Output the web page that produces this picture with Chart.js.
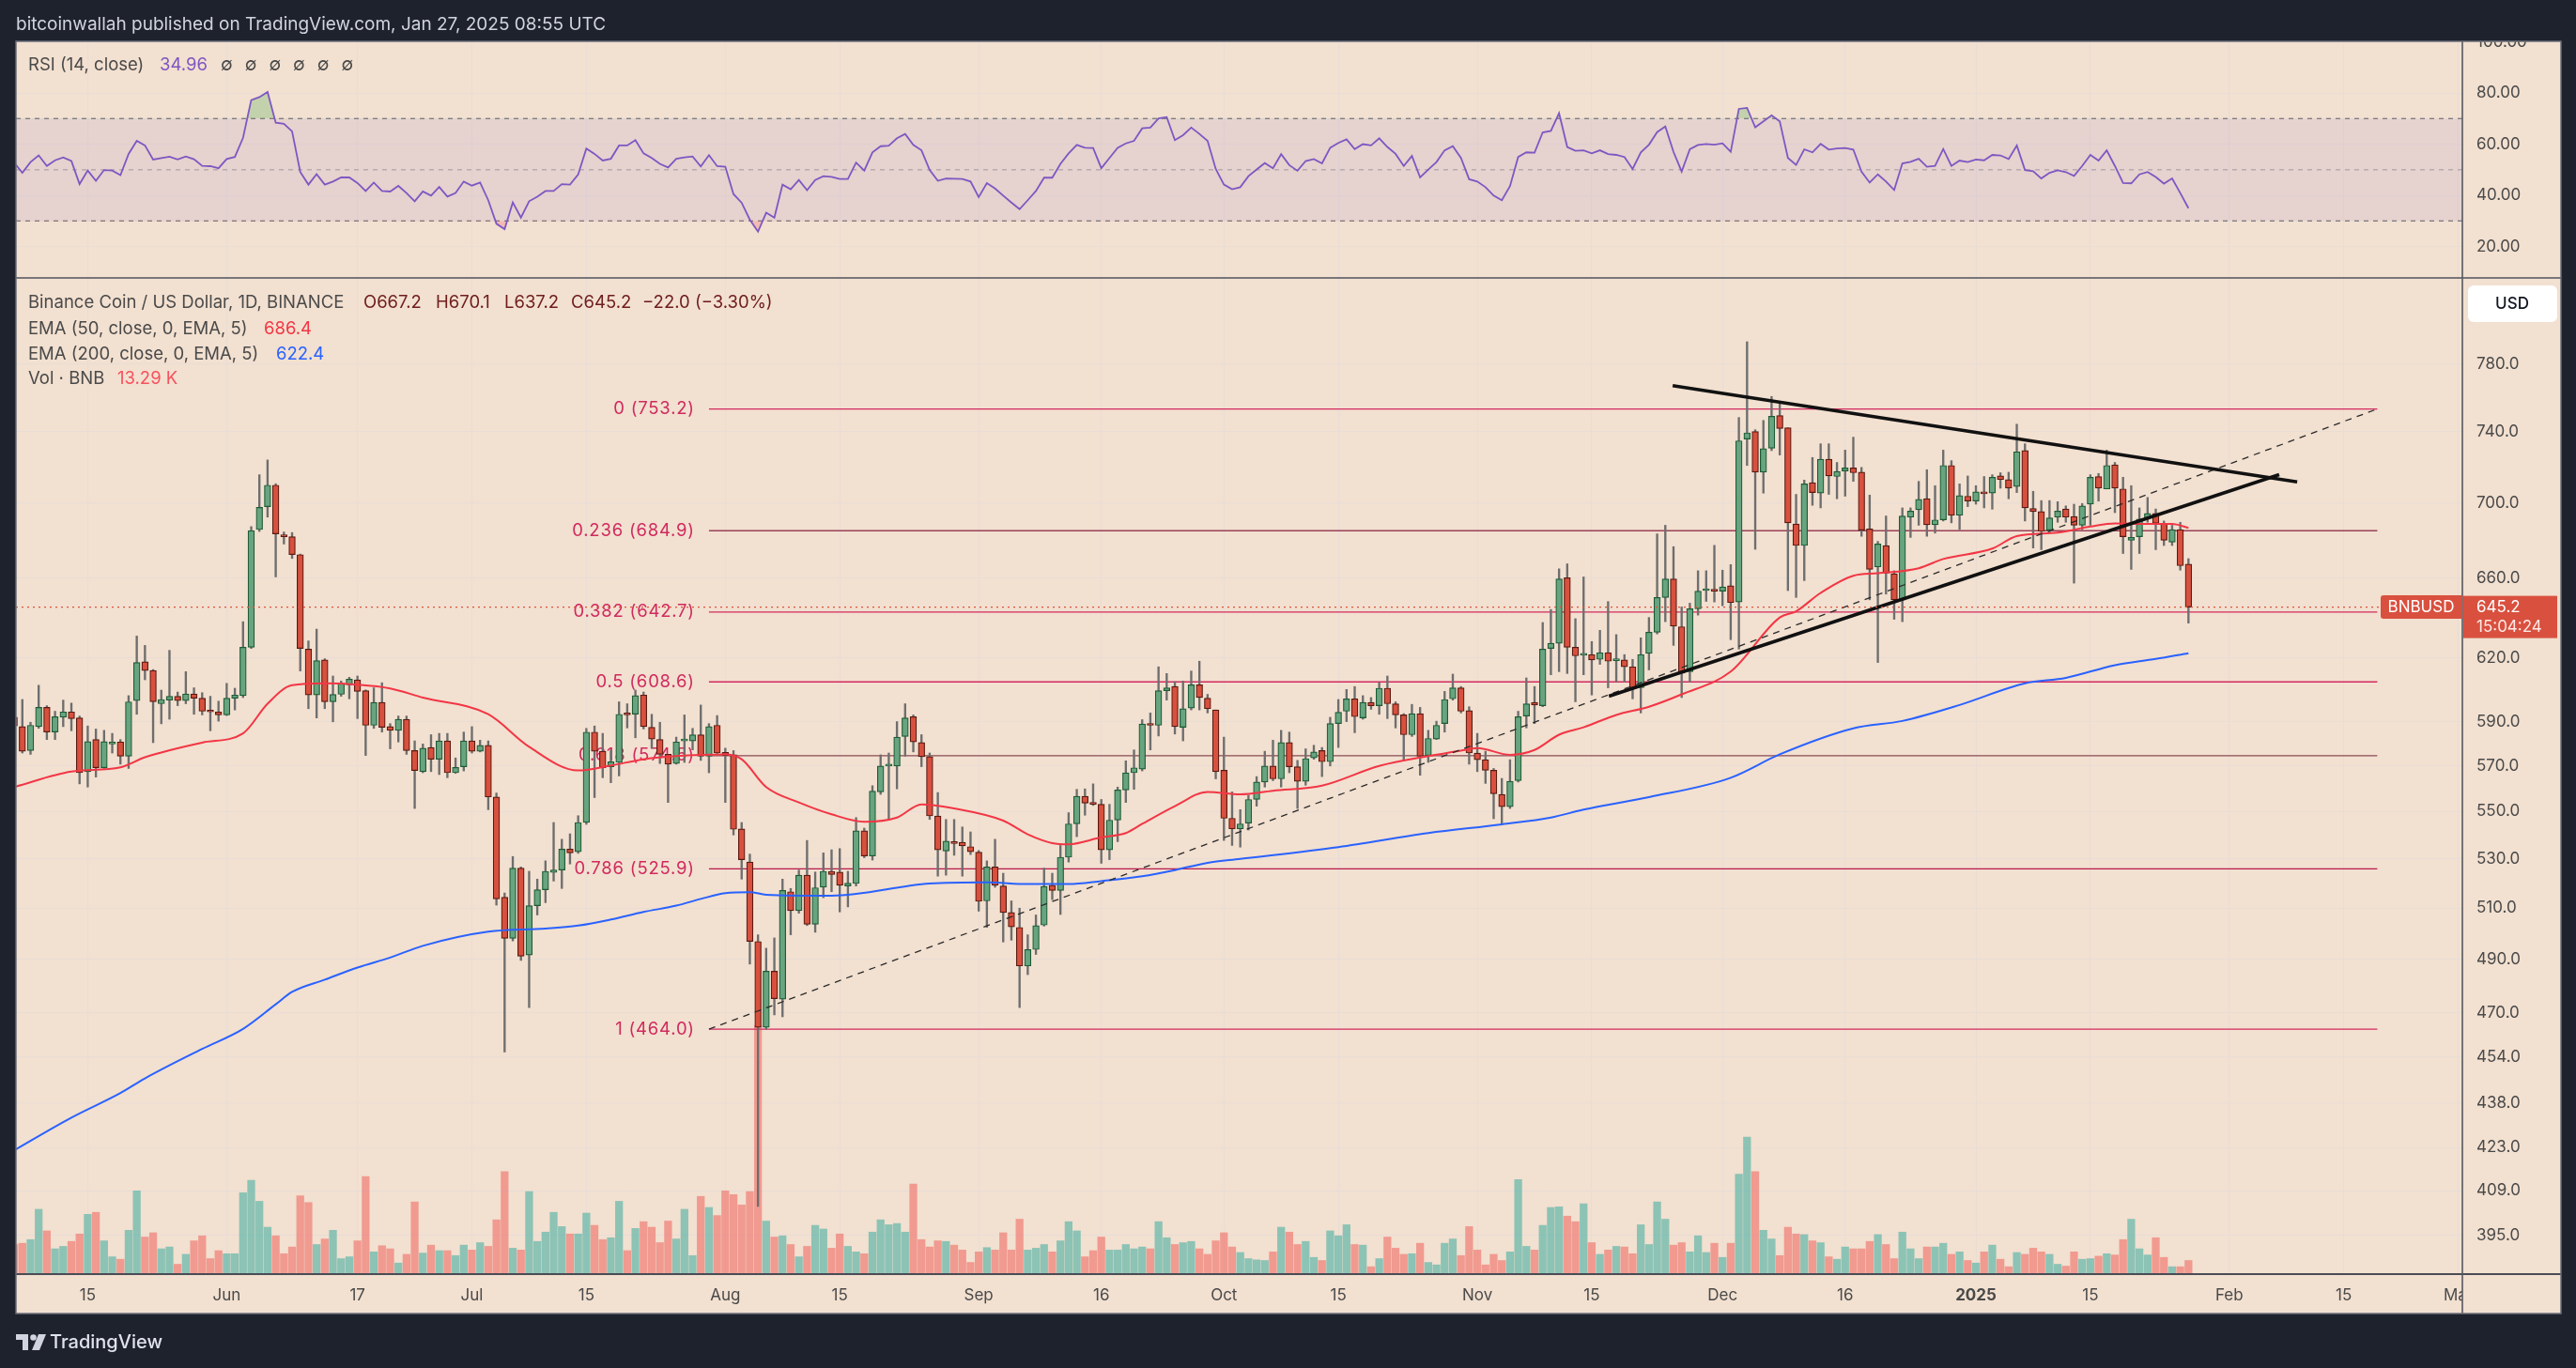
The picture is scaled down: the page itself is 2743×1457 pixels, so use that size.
<!DOCTYPE html>
<html><head><meta charset="utf-8">
<script src="https://cdn.jsdelivr.net/npm/chart.js@4.4.1/dist/chart.umd.min.js"></script>
<style>html,body{margin:0;padding:0;background:#1e222d;overflow:hidden}canvas{display:block}</style>
</head><body>
<canvas id="c" width="2743" height="1457" style="width:2743px;height:1457px"></canvas>
<script>
// ---------- DATA (day index: 0 = 2024-06-01, first candle = 2024-05-06) ----------
const firstDay = -26;
const open = [592.0,587.7,576.8,587.7,596.6,585.2,592.0,594.5,591.7,567.4,581.8,569.1,579.8,580.7,574.3,599.8,618.2,614.0,598.3,600.0,601.8,599.8,602.9,600.9,595.1,594.5,
593.1,600.9,602.1,625.3,685.5,697.9,709.7,682.6,681.7,672.2,
624.4,602.4,619.1,599.2,602.7,607.2,609.6,604.4,588.3,598.9,
587.7,586.0,591.1,576.8,567.4,578.2,572.9,581.2,566.9,569.6,
581.2,576.5,579.2,556.3,514.4,498.1,526.2,491.7,511.0,517.4,
524.4,525.4,534.1,533.0,545.3,585.2,576.5,569.6,571.5,594.0,
593.4,602.4,587.4,581.8,575.1,571.0,581.2,581.2,584.0,574.3,
588.3,576.0,574.9,542.6,528.7,496.9,464.7,485.5,475.0,516.6,
509.0,523.3,503.6,518.4,524.9,524.6,518.9,519.9,541.8,531.2,
558.5,569.9,569.9,583.2,592.3,580.4,574.1,548.1,533.3,536.9,
536.9,535.1,532.8,512.9,526.7,518.9,508.3,502.4,487.5,493.8,
503.3,519.2,517.1,530.7,544.7,556.6,553.6,553.1,533.8,546.3,
559.3,566.9,568.5,589.1,588.3,604.4,606.4,587.4,596.3,607.2,
600.9,595.4,568.0,547.1,542.6,545.0,555.2,562.8,569.9,564.2,
580.4,569.6,563.1,573.5,576.8,571.8,589.1,594.8,600.6,591.7,
598.9,597.4,605.6,598.3,593.1,584.0,593.7,574.6,582.0,589.1,
600.6,605.8,595.1,575.7,572.7,568.0,557.4,552.1,563.4,592.6,
598.9,597.4,624.7,627.2,660.2,625.3,621.4,621.7,619.4,622.6,
618.8,619.1,615.8,605.8,622.3,632.7,650.1,659.6,635.4,613.5,
644.4,653.6,654.0,653.3,656.1,647.8,735.7,740.0,716.9,730.5,
749.3,742.2,688.5,677.0,711.1,705.3,724.2,714.5,717.6,719.3,
716.9,685.8,665.8,677.0,662.2,648.9,692.2,696.2,702.2,688.1,
690.7,720.7,693.2,703.6,700.9,706.0,705.3,714.8,712.8,709.0,
729.1,696.9,695.2,685.2,692.2,696.6,692.5,687.8,699.3,714.5,
707.6,721.0,707.6,679.8,681.7,691.8,694.2,688.8,678.8,685.5,
667.2];
const high = [593.5,600.3,589.7,607.0,597.4,594.8,600.0,598.6,592.6,588.0,586.6,586.0,584.6,581.8,602.1,630.8,626.2,614.5,604.7,623.8,603.8,613.5,605.8,603.5,601.8,599.5,
607.9,605.6,637.9,687.1,715.5,723.8,710.5,684.2,683.9,672.5,
628.4,634.2,619.7,611.4,609.0,610.8,611.4,604.8,605.8,608.2,
589.1,592.6,592.6,581.2,579.8,584.0,584.6,584.6,573.5,585.2,
587.7,581.5,581.2,558.0,516.1,531.0,526.7,524.9,521.7,529.2,
545.3,538.2,540.5,548.2,586.9,588.0,584.6,577.1,599.2,598.3,
604.7,603.8,593.4,589.7,575.1,582.9,593.1,586.9,597.7,589.1,
592.8,577.9,576.8,545.3,532.0,499.5,494.3,498.3,521.7,517.9,
525.4,537.7,524.6,532.5,533.8,534.3,524.9,547.4,542.9,561.2,
574.9,575.7,590.0,598.3,593.1,584.0,575.7,558.2,546.6,546.6,
543.4,541.3,533.5,529.2,538.2,524.1,512.9,510.0,499.5,507.3,
526.2,524.1,535.6,549.5,559.6,559.8,562.0,555.2,553.1,560.6,
572.2,577.1,590.9,594.0,615.8,612.6,608.7,609.0,613.8,618.5,
602.7,595.4,582.9,558.5,550.8,557.1,565.2,576.5,581.5,586.0,
585.2,572.4,577.6,579.2,578.2,592.0,600.3,605.0,606.4,602.1,
601.2,608.2,611.4,599.2,593.7,598.0,596.6,586.0,590.2,604.1,
612.3,606.4,596.9,584.6,576.5,568.8,564.4,572.7,594.8,610.5,
606.4,637.5,644.0,664.8,667.4,639.4,660.6,628.1,633.6,648.0,
631.5,621.7,619.4,629.9,640.0,683.2,687.8,676.4,645.3,647.2,
663.8,663.8,677.1,664.1,667.0,748.2,793.8,741.1,746.5,760.6,
757.3,742.2,704.6,712.5,725.2,733.0,733.0,722.4,729.4,736.8,
719.6,704.2,679.2,692.8,663.8,697.2,697.2,711.8,718.3,709.4,
729.4,723.4,710.4,714.8,709.4,714.5,715.5,716.6,716.9,744.3,
733.0,706.3,701.2,701.2,700.6,698.3,699.2,699.6,715.5,716.2,
729.4,722.4,714.1,709.4,697.2,702.9,696.6,690.1,687.8,689.4,
670.1];
const low = [587.0,575.7,575.1,586.9,581.8,581.8,587.7,585.8,562.0,560.6,565.0,568.8,575.7,570.7,568.8,593.4,609.6,580.4,589.0,591.1,597.4,598.3,593.4,593.1,585.8,590.2,
592.8,595.4,601.2,624.7,684.5,692.2,660.6,677.8,670.2,613.8,
596.0,591.7,596.0,589.9,601.8,600.6,591.4,574.6,586.9,585.2,
577.6,580.7,575.1,551.3,566.9,567.4,566.1,564.7,566.6,567.7,
575.7,576.2,550.8,511.2,455.8,497.1,489.6,471.9,507.3,512.2,
520.9,517.9,527.9,532.3,544.5,556.0,564.7,562.5,565.5,587.1,
582.6,586.6,577.9,571.0,553.9,570.7,571.5,577.1,572.4,566.9,
575.1,553.9,540.0,521.7,488.2,404.0,464.0,469.2,468.5,499.5,
508.0,503.1,500.5,514.2,516.6,508.5,510.5,518.9,530.5,529.5,
557.4,546.6,559.8,574.3,576.2,569.6,546.6,522.9,523.3,531.5,
522.9,531.8,508.8,502.4,518.4,496.7,497.4,471.9,484.2,491.9,
502.9,513.4,507.5,528.7,539.3,548.4,552.6,528.2,529.7,537.2,
553.9,559.6,567.7,577.1,583.4,600.0,584.3,581.2,595.4,595.4,
594.0,564.2,537.7,535.6,534.9,542.1,552.3,560.6,563.4,560.6,
566.9,551.3,561.4,572.9,565.2,569.9,578.2,590.0,584.9,591.1,
595.7,593.4,591.4,587.1,572.2,583.2,565.8,571.5,581.8,585.2,
600.0,594.0,570.7,567.4,562.2,546.9,544.5,551.3,562.8,587.1,
589.1,596.9,612.0,613.5,612.6,599.2,612.0,602.4,617.0,605.8,
608.7,608.5,600.6,594.0,614.3,631.8,637.9,626.2,601.2,608.5,
641.2,648.1,647.8,645.9,629.0,624.4,720.7,675.0,705.3,729.1,
726.6,653.6,650.1,658.7,698.6,697.2,704.6,702.2,703.6,711.8,
681.9,648.9,617.9,651.8,639.1,637.9,681.3,687.8,681.9,683.6,
690.1,689.1,685.5,697.9,699.2,697.2,696.5,708.0,702.2,705.6,
690.1,675.7,674.8,683.6,689.4,689.4,657.4,685.5,687.8,700.9,
707.6,694.6,672.8,664.5,672.8,689.4,674.8,677.0,677.0,664.1,
637.2];
const close = [588.0,576.5,588.3,596.6,585.2,592.3,594.5,591.4,566.9,580.9,569.1,580.9,580.4,574.3,599.2,617.9,614.0,599.2,600.3,601.8,599.8,602.9,600.9,594.8,594.5,593.1,
600.9,602.4,625.3,684.9,697.5,709.7,683.2,681.7,672.2,624.7,
602.4,618.8,599.2,602.7,607.9,609.9,604.1,588.3,598.9,587.4,
586.0,591.1,576.8,567.9,577.9,572.9,581.2,566.9,569.3,581.2,
576.5,579.2,556.3,513.7,498.1,526.2,491.2,511.0,517.4,524.9,
525.4,534.1,532.5,545.3,585.2,576.5,569.1,571.8,593.4,593.1,
602.1,587.7,582.0,575.1,570.7,580.7,581.8,584.0,574.3,587.7,
575.7,574.6,542.4,529.7,496.9,464.7,485.5,475.2,517.1,509.0,
523.3,503.6,518.2,524.9,523.6,519.2,520.1,541.8,531.2,558.8,
569.9,570.4,582.9,591.7,580.7,574.1,548.1,533.8,537.4,536.4,
535.4,533.0,512.7,526.7,519.2,508.3,502.6,487.5,493.8,503.1,
518.7,517.1,530.7,544.7,556.6,553.6,553.1,533.8,546.3,559.3,
566.9,569.1,588.9,588.3,604.4,605.8,587.7,596.0,607.2,601.2,
596.0,567.4,547.1,542.6,544.7,555.2,562.8,569.9,564.2,580.4,
569.6,563.1,573.2,576.2,571.8,589.1,594.3,600.6,592.3,598.9,
597.4,605.6,598.3,593.1,584.0,593.7,574.3,582.3,588.3,600.3,
605.8,594.8,575.7,572.7,568.0,557.7,552.1,563.1,592.3,598.3,
597.7,624.4,627.2,659.6,625.3,621.1,622.0,619.1,622.6,618.5,
619.1,615.8,605.8,621.7,632.7,650.1,659.6,635.7,612.8,644.4,
653.3,654.3,653.3,655.5,647.5,734.7,739.3,716.9,730.2,748.9,
741.8,689.1,677.0,710.4,705.6,724.2,714.8,717.3,719.3,716.6,
685.2,664.5,677.8,662.5,648.9,692.8,695.5,701.9,688.1,690.7,
720.7,693.2,703.9,700.9,706.0,704.9,714.1,712.8,708.0,728.4,
697.2,695.2,684.5,691.8,695.5,692.2,687.8,698.3,714.1,708.0,
720.7,708.0,681.7,681.3,691.1,694.2,688.8,679.8,685.5,666.4,
645.2];
// volume in thousands of BNB
const volume = [28.9,30.1,33.7,63.3,42.2,24.7,27.1,31.9,39.2,58.4,60.3,32.5,16.9,14.5,42.8,81.3,36.2,40.4,24.7,26.5,9.6,19.3,32.5,37.4,15.1,22.9,
19.9,19.9,79.5,91.6,71.1,45.8,37.4,19.9,26.5,76.5,
69.9,28.9,34.3,42.8,15.1,16.9,32.5,95.2,21.7,27.7,
24.7,10.8,19.3,70.5,20.5,28.3,22.9,22.9,18.1,28.3,
23.5,30.7,27.1,53.0,100.0,25.3,23.5,80.7,31.9,41.0,
60.3,46.4,39.2,39.2,59.6,47.6,33.7,35.5,71.1,22.9,
44.6,51.2,45.8,30.7,51.8,34.3,63.3,18.1,75.9,65.1,
57.2,81.3,77.7,67.5,80.7,242.8,51.8,36.2,37.4,28.9,
16.9,27.1,47.6,44.0,25.3,39.2,27.1,21.7,19.9,41.0,
53.0,48.2,49.4,41.0,88.0,33.7,26.5,32.5,31.9,28.3,
23.5,11.4,21.7,25.9,23.5,40.4,23.5,53.6,23.5,25.3,
28.9,21.7,32.5,51.2,42.2,16.9,22.9,36.2,23.5,23.5,
28.9,24.7,26.5,24.7,51.2,35.5,28.9,30.7,31.9,24.7,
19.3,32.5,40.4,26.5,21.1,15.1,13.9,13.3,21.7,45.8,
41.0,28.9,31.9,16.3,13.3,42.2,37.4,48.2,28.9,28.3,
7.2,15.1,36.2,25.3,19.3,19.9,30.1,11.4,9.0,30.1,
34.3,18.1,46.4,23.5,9.0,19.3,13.3,21.7,92.2,27.1,
23.5,47.6,65.1,65.7,56.6,51.2,68.7,30.7,19.3,23.5,
27.1,26.5,19.9,48.2,28.9,70.5,53.6,28.3,30.7,21.7,
37.4,21.1,30.1,16.3,30.1,97.6,133.8,100.0,42.8,34.3,
18.1,45.8,39.2,38.6,32.5,30.7,16.9,14.5,26.5,24.7,
24.7,31.9,38.6,28.9,15.1,41.0,24.7,15.1,26.5,26.5,
30.1,19.3,21.7,13.3,10.8,21.7,28.3,14.5,7.2,21.1,
19.3,25.3,21.7,19.3,9.6,7.8,21.7,14.5,15.1,17.5,
19.9,18.7,33.7,53.6,24.7,18.7,35.5,16.3,7.2,7.2,
13.29];
const rsi = [52.8,48.8,53.0,55.6,51.5,53.7,54.8,53.4,44.4,49.7,45.7,49.9,49.7,47.9,56.2,61.3,59.5,54.0,54.6,55.1,54.0,55.2,54.1,51.5,51.4,50.6,
54.2,55.0,62.5,77.2,78.4,80.4,68.4,68.0,65.0,49.1,
44.2,48.3,44.2,45.4,47.0,47.0,44.8,41.7,45.0,41.7,
41.5,43.7,40.9,37.7,41.5,39.9,43.3,39.5,40.9,45.4,
43.8,45.0,38.1,28.9,26.8,37.2,31.3,37.7,39.5,41.7,
41.7,44.4,44.2,48.2,58.3,56.2,53.6,54.3,59.5,59.5,
61.6,56.4,54.6,52.3,50.9,54.3,54.8,55.2,51.3,55.7,
51.4,51.2,40.5,37.1,30.5,25.8,33.2,31.3,44.2,42.4,
46.0,42.0,46.0,47.5,47.2,46.4,46.4,52.8,49.7,56.8,
59.2,59.4,62.3,64.0,59.7,57.6,49.9,45.7,46.6,46.5,
46.4,45.4,39.3,44.8,42.7,39.9,37.2,34.6,38.1,41.7,
46.9,46.9,52.3,56.4,59.7,58.6,58.5,50.6,54.6,58.6,
60.3,61.3,66.2,66.5,70.1,70.6,61.6,63.5,66.5,64.0,
61.3,50.3,44.2,42.4,43.2,47.5,50.1,52.6,50.6,56.1,
51.8,49.6,53.4,54.2,52.5,58.6,60.5,61.9,58.1,60.0,
59.5,62.3,58.9,56.2,51.5,55.4,47.0,50.1,53.0,57.6,
59.2,54.6,46.3,45.4,43.2,39.9,38.1,43.6,55.0,56.8,
56.7,64.6,65.2,72.1,58.9,57.4,57.6,56.4,57.6,56.1,
55.8,55.0,50.3,56.8,59.8,64.7,66.9,57.0,49.3,58.0,
59.7,60.1,59.8,60.3,57.0,73.8,74.2,66.6,68.9,71.3,
68.9,54.6,51.9,58.0,56.8,60.1,57.9,58.3,58.5,57.9,
49.3,45.0,48.2,45.4,42.1,52.5,53.1,54.3,51.2,51.5,
58.1,51.5,53.6,53.0,54.0,53.7,55.8,55.6,54.2,59.5,
49.9,49.4,46.6,48.8,49.8,49.1,47.6,51.5,55.8,53.6,
57.6,51.5,44.8,44.7,48.2,49.1,47.2,44.6,46.6,40.9,
34.96];
const ema50Days = [-26,-19,-13,-10,-3,2,5,8,12,16,20,24,32,37,43,47,51,55,58,61,63,66,70,74,78,82,85,89,95,98,101,103,107,110,112,116,120,124,128,134,141,147,151,153,157,160,163,166,170,174,178,184,190,192,195,199,202,207,210,216,219,224,228,231,235,238,240];
const ema50 = [560.6,567.4,569.3,573.8,580.4,584.6,598.3,607.0,607.9,607.3,605.5,601.2,593.4,578.5,567.9,570.1,572.9,574.3,574.9,575.1,572.9,560.6,553.9,548.8,545.6,547.4,553.1,551.3,546.1,540.3,536.6,536.1,539.0,540.8,544.7,552.3,558.5,557.4,559.0,561.2,569.9,574.3,576.8,577.9,574.9,577.1,584.0,587.4,593.1,596.9,602.7,613.5,640.0,643.1,652.4,661.2,662.5,665.1,669.9,675.4,682.0,683.9,687.1,688.8,688.5,688.5,686.4];
const ema200Days = [-26,-19,-13,-10,-3,2,6,8,12,16,20,24,32,39,43,47,51,55,58,61,64,66,74,86,93,98,103,107,112,116,120,124,136,147,156,162,166,174,184,190,199,205,212,220,225,231,236,240];
const ema200 = [422.1,433.0,441.4,446.5,456.9,464.1,473.1,477.7,482.3,486.9,490.7,495.2,500.7,501.9,503.1,505.5,508.5,511.0,513.7,516.0,516.4,515.4,515.0,519.9,520.4,519.7,519.7,520.9,522.9,525.4,528.4,530.0,534.9,540.8,544.5,547.4,550.8,556.2,564.7,575.1,586.9,590.3,597.7,607.9,610.5,616.6,619.6,622.4];
// Fibonacci retracement drawing
const fibRatios = [0, 0.236, 0.382, 0.5, 0.618, 0.786, 1];
const fibPrices = [753.2, 684.9, 642.7, 608.6, 574.5, 525.9, 464.0];
const fibStartDay = 59, fibEndDay = 263.1;
// triangle trend lines [day, price]
const upperTrend = [[176.9, 767.0], [253.3, 711.5]];
const lowerTrend = [[169.1, 601.8], [251.1, 715.6]];
// axis ticks
const xTickDays = [-17,0,16,30,44,61,75,92,107,122,136,153,167,183,198,214,228,245,259,273];
const xTickLabels = ['15','Jun','17','Jul','15','Aug','15','Sep','16','Oct','15','Nov','15','Dec','16','2025','15','Feb','15','Mar'];
const priceTicks = [395,409,423,438,454,470,490,510,530,550,570,590,620,660,700,740,780];
const rsiTicks = [20,40,60,80,100];

// ---------- STYLE ----------
const W = 2743, H = 1457;
const PANEL = {l:17, t:44, r:2727, b:1399};
const AXIS_X = 2622;
const BG = '#f2e0d0', DARK = '#1e222d', GRID = '#e8ddd6';
const TXT = '#4a4a4a';
const FONT = 'Inter, "Noto Sans", sans-serif';
Chart.defaults.font.family = FONT;

const n = Math.min(open.length, high.length, low.length, close.length, volume.length);
const days = []; for (let i = 0; i < n; i++) days.push(firstDay + i);
const up = days.map((d,i) => close[i] >= open[i]);

const datasets = [];
datasets.push({type:'bar', yAxisID:'yVol', grouped:false, order:20, barThickness:7.6,
  data: days.map((d,i)=>({x:d, y:volume[i]})),
  backgroundColor: days.map((d,i)=> up[i] ? 'rgba(38,166,154,0.5)' : 'rgba(239,83,80,0.5)'), borderWidth:0});
const fibLineColors = ['#d22b5f','#9a4058','#d22b5f','#d22b5f','#8a4a55','#b8194c','#d22b5f'];
fibPrices.forEach((p,k)=> datasets.push({type:'line', yAxisID:'yMain', order:15,
  data:[{x:fibStartDay,y:p},{x:fibEndDay,y:p}], borderColor:fibLineColors[k], borderWidth:1.4, pointRadius:0}));
datasets.push({type:'bar', yAxisID:'yMain', grouped:false, order:6, barThickness:1.7,
  data: days.map((d,i)=>({x:d, y:[low[i], high[i]]})), backgroundColor:'#6e6e6e', borderWidth:0});
datasets.push({type:'bar', yAxisID:'yMain', grouped:false, order:5, barThickness:6.8, minBarLength:2,
  data: days.map((d,i)=>({x:d, y:[Math.min(open[i],close[i]), Math.max(open[i],close[i])]})),
  backgroundColor: days.map((d,i)=> up[i] ? '#67a47f' : '#d8503e'),
  borderColor: days.map((d,i)=> up[i] ? '#1c5b35' : '#5a1a11'), borderWidth:1.2, borderSkipped:false});
datasets.push({type:'line', yAxisID:'yMain', order:4, data: ema50Days.map((d,k)=>({x:d,y:ema50[k]})),
  borderColor:'#f23645', borderWidth:2, pointRadius:0, cubicInterpolationMode:'monotone'});
datasets.push({type:'line', yAxisID:'yMain', order:4, data: ema200Days.map((d,k)=>({x:d,y:ema200[k]})),
  borderColor:'#2962ff', borderWidth:2, pointRadius:0, cubicInterpolationMode:'monotone'});
datasets.push({type:'line', yAxisID:'yMain', order:3, data:[{x:fibStartDay,y:fibPrices[6]},{x:fibEndDay,y:fibPrices[0]}],
  borderColor:'#2a2a2a', borderWidth:1.3, borderDash:[7,6], pointRadius:0});
[upperTrend, lowerTrend].forEach(t => datasets.push({type:'line', yAxisID:'yMain', order:2,
  data: t.map(p=>({x:p[0], y:p[1]})), borderColor:'#111111', borderWidth:3.6, pointRadius:0}));
const rsiData = days.map((d,i)=>({x:d, y:rsi[i]}));
datasets.push({type:'line', yAxisID:'yRsi', order:1, data: rsiData, borderColor:'#7e57c2', borderWidth:1.8, pointRadius:0,
  fill:{target:{value:70}, above:'rgba(76,175,80,0.28)', below:'rgba(0,0,0,0)'}});
datasets.push({type:'line', yAxisID:'yRsi', order:1, data: rsiData, borderWidth:0, borderColor:'rgba(0,0,0,0)', pointRadius:0,
  fill:{target:{value:30}, above:'rgba(0,0,0,0)', below:'rgba(242,54,69,0.22)'}});

function txt(ctx, s, x, y, color, size, weight, align) {
  ctx.font = `${weight||'400'} ${size}px ${FONT}`;
  ctx.fillStyle = color; ctx.textAlign = align || 'left'; ctx.textBaseline = 'middle';
  ctx.fillText(s, x, y);
  return ctx.measureText(s).width;
}
function hline(ctx, x1, x2, y, color, w) { ctx.strokeStyle=color; ctx.lineWidth=w; ctx.beginPath(); ctx.moveTo(x1,y); ctx.lineTo(x2,y); ctx.stroke(); }
function vline(ctx, x, y1, y2, color, w) { ctx.strokeStyle=color; ctx.lineWidth=w; ctx.beginPath(); ctx.moveTo(x,y1); ctx.lineTo(x,y2); ctx.stroke(); }

const LS = 18.5; // legend font size
const decor = {
  id:'decor',
  beforeDraw(c) {
    const ctx = c.ctx; ctx.save();
    ctx.fillStyle = DARK; ctx.fillRect(0,0,W,H);
    ctx.fillStyle = BG; ctx.fillRect(PANEL.l, PANEL.t, PANEL.r-PANEL.l, PANEL.b-PANEL.t);
    ctx.restore();
  },
  beforeDatasetsDraw(c) {
    const ctx = c.ctx, a = c.chartArea, yr = c.scales.yRsi, ym = c.scales.yMain, x = c.scales.x;
    ctx.save();
    const y70 = yr.getPixelForValue(70), y30 = yr.getPixelForValue(30), y50 = yr.getPixelForValue(50);
    ctx.fillStyle = 'rgba(126,87,194,0.10)'; ctx.fillRect(a.left, y70, a.right-a.left, y30-y70);
    ctx.setLineDash([5,5]);
    hline(ctx, a.left, a.right, y70, 'rgba(110,110,120,0.9)', 1.3);
    hline(ctx, a.left, a.right, y30, 'rgba(110,110,120,0.9)', 1.3);
    hline(ctx, a.left, a.right, y50, 'rgba(130,130,140,0.55)', 1.3);
    ctx.setLineDash([]);
    const fx = x.getPixelForValue(fibStartDay) - 15;
    if ('letterSpacing' in ctx) ctx.letterSpacing = '0.8px';
    fibPrices.forEach((p,k)=> txt(ctx, `${fibRatios[k]} (${p.toFixed(1)})`, fx, ym.getPixelForValue(p), '#d02a5e', 18.5, '400', 'right'));
    if ('letterSpacing' in ctx) ctx.letterSpacing = '0px';
    ctx.restore();
  },
  afterDatasetsDraw(c) {
    const ctx = c.ctx, a = c.chartArea, ym = c.scales.yMain;
    const y = ym.getPixelForValue(close[n-1]);
    ctx.save(); ctx.setLineDash([2,4]);
    hline(ctx, a.left, a.right, y, '#e0503c', 1.2);
    ctx.restore();
  },
  afterDraw(c) {
    const ctx = c.ctx, a = c.chartArea, ym = c.scales.yMain;
    ctx.save();
    ctx.fillStyle = BG; ctx.fillRect(AXIS_X, a.bottom+1, PANEL.r-AXIS_X, PANEL.b-a.bottom-1);
    hline(ctx, PANEL.l, PANEL.r, c.scales.yRsi.bottom, '#50535c', 1.6);
    hline(ctx, PANEL.l, PANEL.r, a.bottom, '#4a4c55', 2);
    vline(ctx, AXIS_X, PANEL.t, PANEL.b, '#55575f', 1.6);
    ctx.strokeStyle = '#6a6d78'; ctx.lineWidth = 1.5; ctx.strokeRect(PANEL.l, PANEL.t, PANEL.r-PANEL.l, PANEL.b-PANEL.t);
    // header
    ctx.fillStyle = DARK; ctx.fillRect(0, 0, W, PANEL.t-1);
    txt(ctx, 'bitcoinwallah published on TradingView.com, Jan 27, 2025 08:55 UTC', 17, 26, '#d1d4dc', 19);
    // RSI legend
    txt(ctx, 'RSI (14, close)', 30, 69, TXT, LS);
    txt(ctx, rsi[n-1].toFixed(2), 170, 69, '#7e57c2', LS);
    for (let k = 0; k < 6; k++) txt(ctx, '\u2205', 235 + k*25.7, 69, TXT, LS);
    // main legend
    txt(ctx, 'Binance Coin / US Dollar, 1D, BINANCE', 30, 322, TXT, LS);
    const oc = '#6e1c1c';
    txt(ctx, 'O' + open[n-1].toFixed(1), 387, 322, oc, LS);
    txt(ctx, 'H' + high[n-1].toFixed(1), 464, 322, oc, LS);
    txt(ctx, 'L' + low[n-1].toFixed(1), 537, 322, oc, LS);
    txt(ctx, 'C' + close[n-1].toFixed(1), 608, 322, oc, LS);
    txt(ctx, '\u221222.0 (\u22123.30%)', 684, 322, oc, LS);
    txt(ctx, 'EMA (50, close, 0, EMA, 5)', 30, 350, TXT, LS);
    txt(ctx, ema50[ema50.length-1].toFixed(1), 281, 350, '#f23645', LS);
    txt(ctx, 'EMA (200, close, 0, EMA, 5)', 30, 377, TXT, LS);
    txt(ctx, ema200[ema200.length-1].toFixed(1), 294, 377, '#2962ff', LS);
    txt(ctx, 'Vol \u00b7 BNB', 30, 403, TXT, LS);
    txt(ctx, volume[n-1].toFixed(2) + ' K', 125, 403, '#f7525f', LS);
    // USD box
    ctx.fillStyle = '#ffffff'; ctx.beginPath(); ctx.roundRect(2628, 304, 95, 39, 6); ctx.fill();
    txt(ctx, 'USD', 2675, 324, '#131722', 17, '500', 'center');
    // price labels
    const py = ym.getPixelForValue(close[n-1]);
    ctx.fillStyle = '#d9503f';
    ctx.beginPath(); ctx.roundRect(2535, py-12.5, 87, 25, [3,0,0,3]); ctx.fill();
    txt(ctx, 'BNBUSD', 2578, py, '#ffffff', 17, '400', 'center');
    ctx.fillStyle = '#d9503f'; ctx.fillRect(AXIS_X+1, py-12, 100, 45);
    txt(ctx, close[n-1].toFixed(1), 2637, py, '#ffffff', 17);
    txt(ctx, '15:04:24', 2637, py+21, '#ffe9e6', 17);
    // bottom logo
    ctx.fillStyle = '#d1d4dc';
    ctx.fillRect(17, 1421, 13, 6); ctx.fillRect(24, 1421, 6, 17);
    ctx.beginPath(); ctx.arc(35.5, 1424.5, 3.3, 0, Math.PI*2); ctx.fill();
    ctx.beginPath(); ctx.moveTo(41,1421); ctx.lineTo(49,1421); ctx.lineTo(42,1438); ctx.lineTo(34,1438); ctx.closePath(); ctx.fill();
    txt(ctx, 'TradingView', 53, 1430, '#e0e3eb', 20, '500');
    ctx.restore();
  }
};

new Chart(document.getElementById('c'), {
  type: 'bar',
  data: { datasets },
  options: {
    responsive:false, animation:false, devicePixelRatio:1, events:[],
    layout:{padding:{left:17, right:16, top:44, bottom:58}},
    plugins:{legend:{display:false}, tooltip:{enabled:false}},
    scales: {
      x: {type:'linear', min:-25.78, max:273.51, offset:false,
        grid:{color:GRID, lineWidth:1, drawTicks:false, offset:false}, border:{display:false},
        ticks:{autoSkip:false, maxRotation:0, padding:13, color:TXT,
          font:(ctx)=>({family:FONT, size:17, weight:(ctx.tick && ctx.tick.label==='2025') ? '700' : '400'}),
          callback:(v)=>{ const i = xTickDays.indexOf(v); return i >= 0 ? xTickLabels[i] : ''; }},
        afterBuildTicks:(s)=>{ s.ticks = xTickDays.map(v=>({value:v})); },
        afterFit:(s)=>{ s.height = 42; }},
      yRsi: {type:'linear', position:'right', stack:'pane', stackWeight:252, min:7.73, max:100.2,
        grid:{color:GRID, drawTicks:false}, border:{display:false},
        ticks:{autoSkip:false, padding:15, color:TXT, font:{family:FONT, size:17}, callback:(v)=>Number(v).toFixed(2)},
        afterBuildTicks:(s)=>{ s.ticks = rsiTicks.map(v=>({value:v})); },
        afterFit:(s)=>{ s.width = 105; }},
      yMain: {type:'logarithmic', position:'right', stack:'pane', stackWeight:1061, min:383.2, max:834.4,
        grid:{color:GRID, drawTicks:false}, border:{display:false},
        ticks:{autoSkip:false, padding:15, color:TXT, font:{family:FONT, size:17}, callback:(v)=>Number(v).toFixed(1)},
        afterBuildTicks:(s)=>{ s.ticks = priceTicks.map(v=>({value:v})); },
        afterFit:(s)=>{ s.width = 105; }},
      yVol: {type:'linear', display:false, min:0, max:1204}
    }
  },
  plugins:[decor]
});
</script>
</body></html>
